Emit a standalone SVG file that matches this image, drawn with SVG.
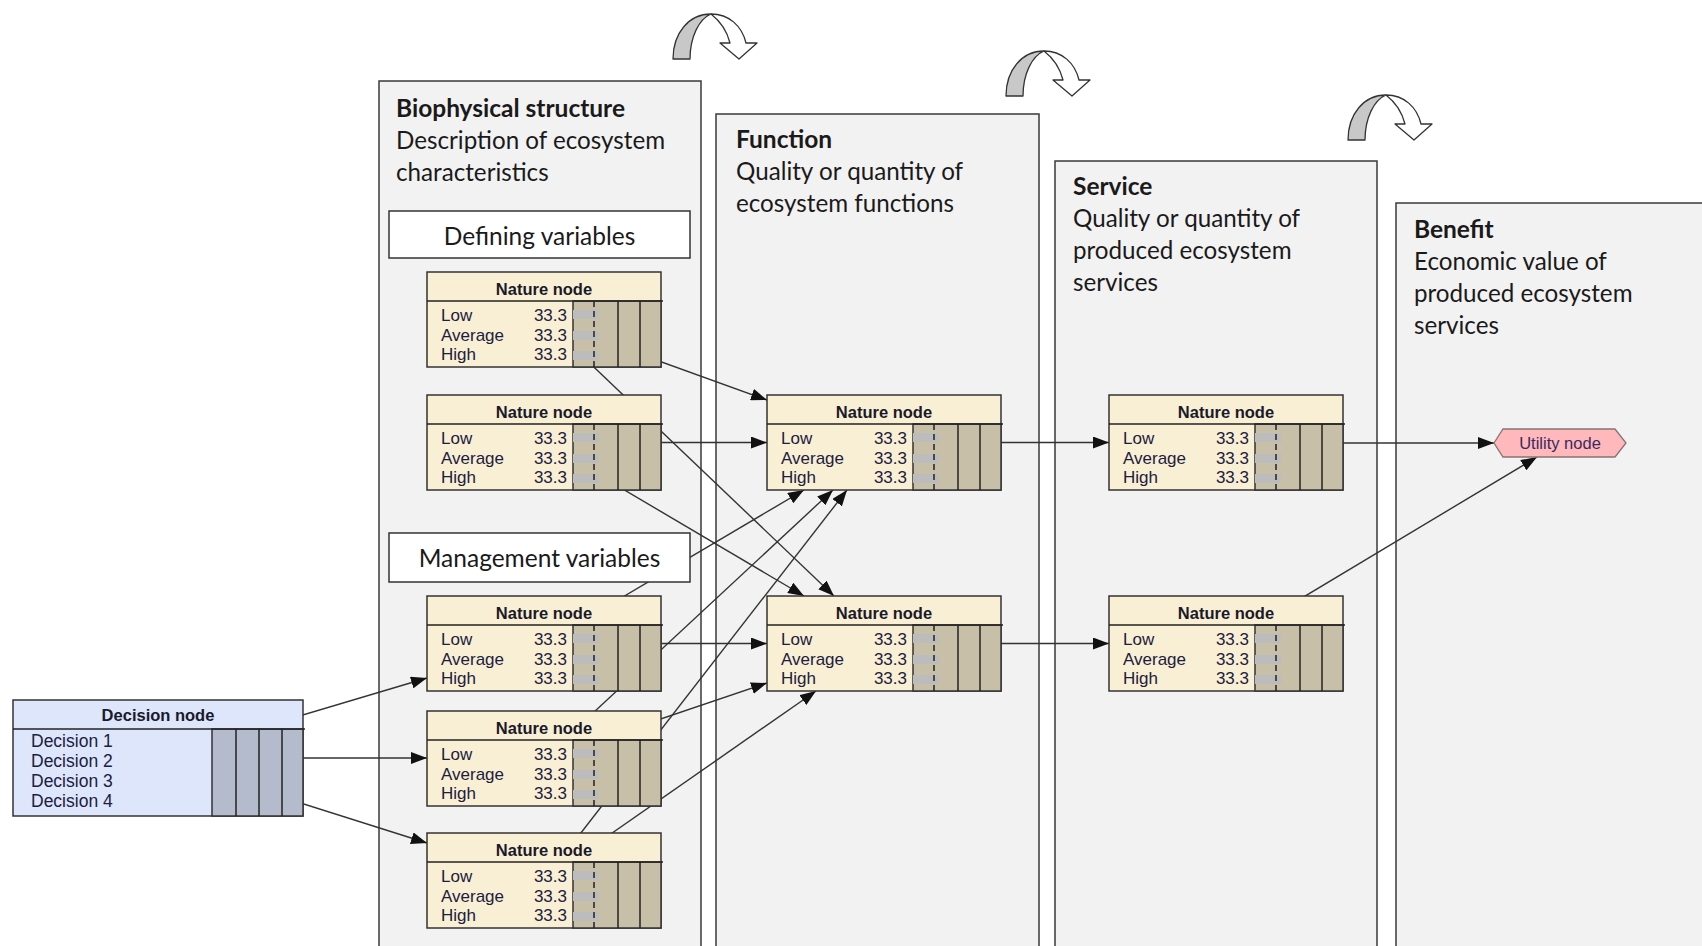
<svg xmlns="http://www.w3.org/2000/svg" width="1702" height="946" viewBox="0 0 1702 946">
<style>
.panel{fill:#f2f2f2;stroke:#3a3a3a;stroke-width:1.5}
.ptitle{font-family:Lato,"Liberation Sans",sans-serif;font-weight:bold;font-size:24.5px;fill:#1a1a1a}
.ptext{font-family:Lato,"Liberation Sans",sans-serif;font-size:24.2px;fill:#1a1a1a}
.lbox{fill:#ffffff;stroke:#333;stroke-width:1.5}
.ltext{font-family:Lato,"Liberation Sans",sans-serif;font-size:24.5px;fill:#1a1a1a;text-anchor:middle}
.nbox{fill:#f8efd4;stroke:#333;stroke-width:1.5}
.ncol{fill:#c8bfa8;stroke:#333;stroke-width:1.5}
.nline{stroke:#222;stroke-width:1.5}
.ndash{stroke:#222;stroke-width:1.5;stroke-dasharray:6 4}
.bar{fill:#bcbcbc}
.nhead{font-family:"Liberation Sans",Arial,sans-serif;font-weight:bold;font-size:16.5px;fill:#1a1a2a;text-anchor:middle}
.nrow{font-family:"Liberation Sans",Arial,sans-serif;font-size:17px;fill:#1c2040}
.nval{font-family:"Liberation Sans",Arial,sans-serif;font-size:17px;fill:#1c2040;text-anchor:end}
.drow{font-family:"Liberation Sans",Arial,sans-serif;font-size:17.5px;fill:#1c2040}
.dbox{fill:#dde6fb;stroke:#333;stroke-width:1.5}
.dcol{fill:#b3bbcc;stroke:#333;stroke-width:1.5}
.link{stroke:#333;stroke-width:1.4;fill:none;marker-end:url(#ah)}
.cgray{fill:#c8c8c8;stroke:#333;stroke-width:1.3;stroke-linejoin:round}
.cwhite{fill:#ffffff;stroke:#333;stroke-width:1.3;stroke-linejoin:round}
</style>
<defs>
<marker id="ah" markerUnits="userSpaceOnUse" viewBox="0 0 16 12" refX="16" refY="6" markerWidth="16" markerHeight="12" orient="auto">
<path d="M0,0 L16,6 L0,12 z" fill="#111"/>
</marker>
<g id="curl">
<path class="cgray" d="M2,46 C2,20 18,1 40,1 C28,6 19,24 19,46 Z"/>
<path class="cwhite" d="M40,1 C58,1 71,13 75,30 L86,30 L68,46 L49,30 L59,30 C56,18 49,8 40,1 Z"/>
</g>
</defs>
<rect width="1702" height="946" fill="#ffffff"/>

<g id="panels">
<g id="panel-biophysical">
<rect class="panel" x="379" y="81" width="322" height="900"/>
<text class="ptitle" x="396" y="117">Biophysical structure</text>
<text class="ptext" x="396" y="149">Description of ecosystem</text>
<text class="ptext" x="396" y="181">characteristics</text>
</g>
<g id="panel-function">
<rect class="panel" x="716" y="114" width="323" height="900"/>
<text class="ptitle" x="736" y="148">Function</text>
<text class="ptext" x="736" y="180">Quality or quantity of</text>
<text class="ptext" x="736" y="212">ecosystem functions</text>
</g>
<g id="panel-service">
<rect class="panel" x="1055" y="161" width="322" height="900"/>
<text class="ptitle" x="1073" y="195">Service</text>
<text class="ptext" x="1073" y="227">Quality or quantity of</text>
<text class="ptext" x="1073" y="259">produced ecosystem</text>
<text class="ptext" x="1073" y="291">services</text>
</g>
<g id="panel-benefit">
<rect class="panel" x="1396" y="203" width="400" height="900"/>
<text class="ptitle" x="1414" y="238">Benefit</text>
<text class="ptext" x="1414" y="270">Economic value of</text>
<text class="ptext" x="1414" y="302">produced ecosystem</text>
<text class="ptext" x="1414" y="334">services</text>
</g>
</g>

<g id="curved-arrows">
<use href="#curl" transform="translate(671,13)"/>
<use href="#curl" transform="translate(1004,50)"/>
<use href="#curl" transform="translate(1346,94)"/>
</g>

<g id="connectors">
<line class="link" x1="544" y1="319.5" x2="767" y2="400"/>
<line class="link" x1="544" y1="319.5" x2="834" y2="596"/>
<line class="link" x1="544" y1="442.5" x2="767" y2="442.5"/>
<line class="link" x1="544" y1="442.5" x2="804" y2="596"/>
<line class="link" x1="544" y1="643.5" x2="804" y2="490"/>
<line class="link" x1="544" y1="643.5" x2="767" y2="643.5"/>
<line class="link" x1="544" y1="758.5" x2="833" y2="490"/>
<line class="link" x1="544" y1="758.5" x2="767" y2="683"/>
<line class="link" x1="544" y1="880.5" x2="847" y2="490"/>
<line class="link" x1="544" y1="880.5" x2="816" y2="691"/>
<line class="link" x1="884" y1="442.5" x2="1109" y2="442.5"/>
<line class="link" x1="884" y1="643.5" x2="1109" y2="643.5"/>
<line class="link" x1="1226" y1="443" x2="1494" y2="443"/>
<line class="link" x1="1226" y1="643.5" x2="1537" y2="457"/>
<line class="link" x1="158" y1="758" x2="427" y2="678"/>
<line class="link" x1="158" y1="758" x2="427" y2="758"/>
<line class="link" x1="158" y1="758" x2="427" y2="843"/>
</g>

<g id="label-defining">
<rect class="lbox" x="389" y="211" width="301" height="47"/>
<text class="ltext" x="539.5" y="245">Defining variables</text>
</g>
<g id="label-management">
<rect class="lbox" x="389" y="533" width="301" height="49"/>
<text class="ltext" x="539.5" y="567">Management variables</text>
</g>

<g id="nature-1" transform="translate(427,272)">
<rect class="nbox" x="0" y="0" width="234" height="95"/>
<rect class="ncol" x="146" y="29" width="88" height="66"/>
<rect class="bar" x="146" y="38" width="26" height="9"/><rect class="bar" x="146" y="59" width="26" height="9"/><rect class="bar" x="146" y="79" width="26" height="9"/>
<line class="nline" x1="0" y1="29" x2="236" y2="29"/>
<line class="ndash" x1="167" y1="29" x2="167" y2="95"/>
<line class="nline" x1="191" y1="29" x2="191" y2="95"/><line class="nline" x1="213" y1="29" x2="213" y2="95"/>
<text class="nhead" x="117" y="23">Nature node</text>
<text class="nrow" x="14" y="49">Low</text><text class="nval" x="140" y="49">33.3</text>
<text class="nrow" x="14" y="69">Average</text><text class="nval" x="140" y="69">33.3</text>
<text class="nrow" x="14" y="88">High</text><text class="nval" x="140" y="88">33.3</text>
</g>
<g id="nature-2" transform="translate(427,395)">
<rect class="nbox" x="0" y="0" width="234" height="95"/>
<rect class="ncol" x="146" y="29" width="88" height="66"/>
<rect class="bar" x="146" y="38" width="26" height="9"/><rect class="bar" x="146" y="59" width="26" height="9"/><rect class="bar" x="146" y="79" width="26" height="9"/>
<line class="nline" x1="0" y1="29" x2="236" y2="29"/>
<line class="ndash" x1="167" y1="29" x2="167" y2="95"/>
<line class="nline" x1="191" y1="29" x2="191" y2="95"/><line class="nline" x1="213" y1="29" x2="213" y2="95"/>
<text class="nhead" x="117" y="23">Nature node</text>
<text class="nrow" x="14" y="49">Low</text><text class="nval" x="140" y="49">33.3</text>
<text class="nrow" x="14" y="69">Average</text><text class="nval" x="140" y="69">33.3</text>
<text class="nrow" x="14" y="88">High</text><text class="nval" x="140" y="88">33.3</text>
</g>
<g id="nature-3" transform="translate(427,596)">
<rect class="nbox" x="0" y="0" width="234" height="95"/>
<rect class="ncol" x="146" y="29" width="88" height="66"/>
<rect class="bar" x="146" y="38" width="26" height="9"/><rect class="bar" x="146" y="59" width="26" height="9"/><rect class="bar" x="146" y="79" width="26" height="9"/>
<line class="nline" x1="0" y1="29" x2="236" y2="29"/>
<line class="ndash" x1="167" y1="29" x2="167" y2="95"/>
<line class="nline" x1="191" y1="29" x2="191" y2="95"/><line class="nline" x1="213" y1="29" x2="213" y2="95"/>
<text class="nhead" x="117" y="23">Nature node</text>
<text class="nrow" x="14" y="49">Low</text><text class="nval" x="140" y="49">33.3</text>
<text class="nrow" x="14" y="69">Average</text><text class="nval" x="140" y="69">33.3</text>
<text class="nrow" x="14" y="88">High</text><text class="nval" x="140" y="88">33.3</text>
</g>
<g id="nature-4" transform="translate(427,711)">
<rect class="nbox" x="0" y="0" width="234" height="95"/>
<rect class="ncol" x="146" y="29" width="88" height="66"/>
<rect class="bar" x="146" y="38" width="26" height="9"/><rect class="bar" x="146" y="59" width="26" height="9"/><rect class="bar" x="146" y="79" width="26" height="9"/>
<line class="nline" x1="0" y1="29" x2="236" y2="29"/>
<line class="ndash" x1="167" y1="29" x2="167" y2="95"/>
<line class="nline" x1="191" y1="29" x2="191" y2="95"/><line class="nline" x1="213" y1="29" x2="213" y2="95"/>
<text class="nhead" x="117" y="23">Nature node</text>
<text class="nrow" x="14" y="49">Low</text><text class="nval" x="140" y="49">33.3</text>
<text class="nrow" x="14" y="69">Average</text><text class="nval" x="140" y="69">33.3</text>
<text class="nrow" x="14" y="88">High</text><text class="nval" x="140" y="88">33.3</text>
</g>
<g id="nature-5" transform="translate(427,833)">
<rect class="nbox" x="0" y="0" width="234" height="95"/>
<rect class="ncol" x="146" y="29" width="88" height="66"/>
<rect class="bar" x="146" y="38" width="26" height="9"/><rect class="bar" x="146" y="59" width="26" height="9"/><rect class="bar" x="146" y="79" width="26" height="9"/>
<line class="nline" x1="0" y1="29" x2="236" y2="29"/>
<line class="ndash" x1="167" y1="29" x2="167" y2="95"/>
<line class="nline" x1="191" y1="29" x2="191" y2="95"/><line class="nline" x1="213" y1="29" x2="213" y2="95"/>
<text class="nhead" x="117" y="23">Nature node</text>
<text class="nrow" x="14" y="49">Low</text><text class="nval" x="140" y="49">33.3</text>
<text class="nrow" x="14" y="69">Average</text><text class="nval" x="140" y="69">33.3</text>
<text class="nrow" x="14" y="88">High</text><text class="nval" x="140" y="88">33.3</text>
</g>
<g id="function-1" transform="translate(767,395)">
<rect class="nbox" x="0" y="0" width="234" height="95"/>
<rect class="ncol" x="146" y="29" width="88" height="66"/>
<rect class="bar" x="146" y="38" width="26" height="9"/><rect class="bar" x="146" y="59" width="26" height="9"/><rect class="bar" x="146" y="79" width="26" height="9"/>
<line class="nline" x1="0" y1="29" x2="236" y2="29"/>
<line class="ndash" x1="167" y1="29" x2="167" y2="95"/>
<line class="nline" x1="191" y1="29" x2="191" y2="95"/><line class="nline" x1="213" y1="29" x2="213" y2="95"/>
<text class="nhead" x="117" y="23">Nature node</text>
<text class="nrow" x="14" y="49">Low</text><text class="nval" x="140" y="49">33.3</text>
<text class="nrow" x="14" y="69">Average</text><text class="nval" x="140" y="69">33.3</text>
<text class="nrow" x="14" y="88">High</text><text class="nval" x="140" y="88">33.3</text>
</g>
<g id="function-2" transform="translate(767,596)">
<rect class="nbox" x="0" y="0" width="234" height="95"/>
<rect class="ncol" x="146" y="29" width="88" height="66"/>
<rect class="bar" x="146" y="38" width="26" height="9"/><rect class="bar" x="146" y="59" width="26" height="9"/><rect class="bar" x="146" y="79" width="26" height="9"/>
<line class="nline" x1="0" y1="29" x2="236" y2="29"/>
<line class="ndash" x1="167" y1="29" x2="167" y2="95"/>
<line class="nline" x1="191" y1="29" x2="191" y2="95"/><line class="nline" x1="213" y1="29" x2="213" y2="95"/>
<text class="nhead" x="117" y="23">Nature node</text>
<text class="nrow" x="14" y="49">Low</text><text class="nval" x="140" y="49">33.3</text>
<text class="nrow" x="14" y="69">Average</text><text class="nval" x="140" y="69">33.3</text>
<text class="nrow" x="14" y="88">High</text><text class="nval" x="140" y="88">33.3</text>
</g>
<g id="service-1" transform="translate(1109,395)">
<rect class="nbox" x="0" y="0" width="234" height="95"/>
<rect class="ncol" x="146" y="29" width="88" height="66"/>
<rect class="bar" x="146" y="38" width="26" height="9"/><rect class="bar" x="146" y="59" width="26" height="9"/><rect class="bar" x="146" y="79" width="26" height="9"/>
<line class="nline" x1="0" y1="29" x2="236" y2="29"/>
<line class="ndash" x1="167" y1="29" x2="167" y2="95"/>
<line class="nline" x1="191" y1="29" x2="191" y2="95"/><line class="nline" x1="213" y1="29" x2="213" y2="95"/>
<text class="nhead" x="117" y="23">Nature node</text>
<text class="nrow" x="14" y="49">Low</text><text class="nval" x="140" y="49">33.3</text>
<text class="nrow" x="14" y="69">Average</text><text class="nval" x="140" y="69">33.3</text>
<text class="nrow" x="14" y="88">High</text><text class="nval" x="140" y="88">33.3</text>
</g>
<g id="service-2" transform="translate(1109,596)">
<rect class="nbox" x="0" y="0" width="234" height="95"/>
<rect class="ncol" x="146" y="29" width="88" height="66"/>
<rect class="bar" x="146" y="38" width="26" height="9"/><rect class="bar" x="146" y="59" width="26" height="9"/><rect class="bar" x="146" y="79" width="26" height="9"/>
<line class="nline" x1="0" y1="29" x2="236" y2="29"/>
<line class="ndash" x1="167" y1="29" x2="167" y2="95"/>
<line class="nline" x1="191" y1="29" x2="191" y2="95"/><line class="nline" x1="213" y1="29" x2="213" y2="95"/>
<text class="nhead" x="117" y="23">Nature node</text>
<text class="nrow" x="14" y="49">Low</text><text class="nval" x="140" y="49">33.3</text>
<text class="nrow" x="14" y="69">Average</text><text class="nval" x="140" y="69">33.3</text>
<text class="nrow" x="14" y="88">High</text><text class="nval" x="140" y="88">33.3</text>
</g>

<g id="decision" transform="translate(13,700)">
<rect class="dbox" x="0" y="0" width="290" height="116"/>
<rect class="dcol" x="199" y="29" width="91" height="87"/>
<line class="nline" x1="0" y1="29" x2="292" y2="29"/>
<line class="nline" x1="223" y1="29" x2="223" y2="116"/><line class="nline" x1="246" y1="29" x2="246" y2="116"/><line class="nline" x1="269" y1="29" x2="269" y2="116"/>
<text class="nhead" x="145" y="21">Decision node</text>
<text class="drow" x="18" y="47">Decision 1</text>
<text class="drow" x="18" y="67">Decision 2</text>
<text class="drow" x="18" y="87">Decision 3</text>
<text class="drow" x="18" y="107">Decision 4</text>
</g>

<g id="utility">
<polygon points="1494,443 1503,429 1615,429 1626,443 1615,457 1503,457" fill="#ffb8bb" stroke="#8a7272" stroke-width="1.3"/>
<text x="1560" y="449" font-family="'Liberation Sans',Arial,sans-serif" font-size="16.5" fill="#3a2a5e" text-anchor="middle">Utility node</text>
</g>
</svg>
